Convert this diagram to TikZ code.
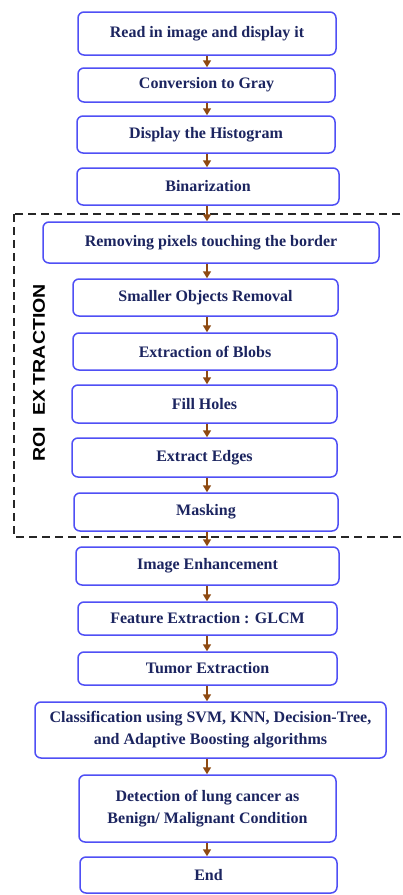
\documentclass[tikz,border=0pt]{standalone}
\usepackage{fontspec}
\setmainfont{Liberation Serif}
\setsansfont{Liberation Sans}
\newfontfamily\roifont[FakeStretch=1.15]{Liberation Sans}
\usetikzlibrary{arrows.meta}
\definecolor{boxblue}{HTML}{4F4FF5}
\definecolor{txtnavy}{HTML}{1C2560}
\definecolor{arrbrown}{HTML}{8E4A12}
\tikzset{
  stepbox/.style={draw=boxblue, line width=1.5pt, rounded corners=6pt, fill=white,
    text=txtnavy, font=\fontsize{16}{22}\selectfont\bfseries, align=center, inner sep=0pt},
  flow/.style={draw=arrbrown, line width=1.6pt, -{Triangle[length=7pt,width=8pt]}, arrbrown},
}
\newcommand{\mybox}[6]{% name, x1, x2, y1, y2, text
  \node[stepbox, minimum width={#3-#2}, minimum height={#5-#4}] (#1) at ({(#2+#3)/2},{(#4+#5)/2}) {#6};}
\begin{document}
\begin{tikzpicture}[x=1pt,y=-1pt]
\clip (0,0) rectangle (403,895);
\fill[white] (0,0) rectangle (403,895);
% ROI region
\draw[black!85, line width=1.6pt, dash pattern=on 8pt off 5pt] (14,214) rectangle (430,537);
\node[rotate=90, font=\roifont\bfseries\fontsize{17}{17}\selectfont, text=black] (roi) at (39,373) {ROI\hspace{12pt}EX\hspace{4pt}TRACTION};
\mybox{b1}{78}{336}{12}{55}{Read in image and display it}
\mybox{b2}{78}{335}{68}{102}{Conversion to Gray}
\mybox{b3}{77}{335}{116}{153}{Display the Histogram}
\mybox{b4}{77}{339}{168}{205}{Binarization}
\mybox{b5}{43}{379}{222}{263}{Removing pixels touching the border}
\mybox{b6}{73}{338}{279}{316}{Smaller Objects Removal}
\mybox{b7}{73}{337}{333}{370}{Extraction of Blobs}
\mybox{b8}{72}{337}{385}{423}{Fill Holes}
\mybox{b9}{72}{337}{438}{477}{Extract Edges}
\mybox{b10}{74}{338}{493}{531}{Masking}
\mybox{b11}{76}{339}{547}{585}{Image Enhancement}
\mybox{b12}{78}{337}{602}{635}{Feature Extraction : GLCM}
\mybox{b13}{78}{337}{652}{685}{Tumor Extraction}
\mybox{b14}{35}{386}{702}{758}{Classification using SVM, KNN, Decision-Tree,\\and Adaptive Boosting algorithms}
\mybox{b15}{79}{336}{775}{842}{Detection of lung cancer as\\Benign/ Malignant Condition}
\mybox{b16}{80}{337}{857}{893}{End}
\foreach \a/\b in {b1/b2,b2/b3,b3/b4,b4/b5,b5/b6,b6/b7,b7/b8,b8/b9,b9/b10,b10/b11,b11/b12,b12/b13,b13/b14,b14/b15,b15/b16}{
  \draw[flow] (\a.south -| 207,0) -- (\b.north -| 207,0);
}
\end{tikzpicture}
\end{document}
